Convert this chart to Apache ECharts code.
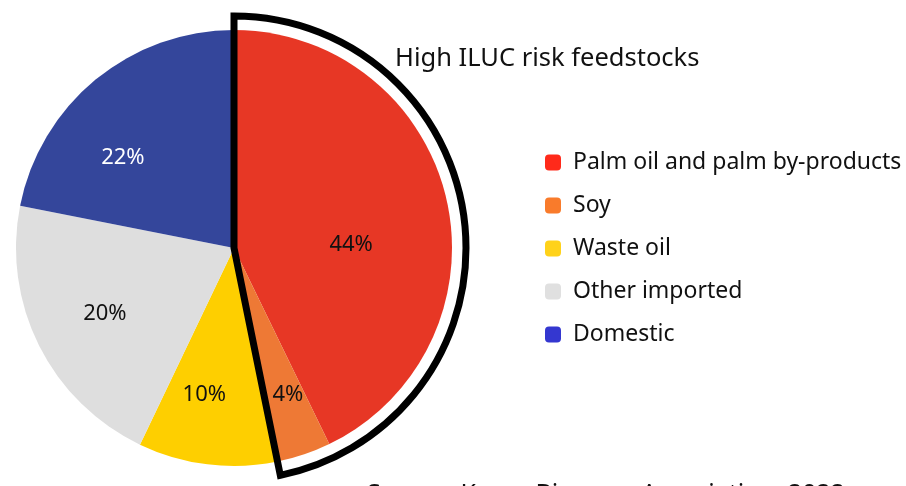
<!DOCTYPE html>
<html>
<head>
<meta charset="utf-8">
<script src="https://cdn.jsdelivr.net/npm/echarts@6/dist/echarts.min.js"></script>
<style>
  html, body { margin: 0; padding: 0; background: #fff; }
  #chart { width: 906px; height: 486px; }
</style>
</head>
<body>
<div id="chart"></div>
<script>
var categories = ['Palm oil and palm by-products', 'Soy', 'Waste oil', 'Other imported', 'Domestic'];
var shares = [42.8, 4.0, 10.3, 21.0, 21.9];
var shareLabels = ['44%', '4%', '10%', '20%', '22%'];
var sliceColors = ['#E73725', '#EE7935', '#FECF00', '#DEDEDE', '#34469B'];
var legendColors = ['#FF2A1A', '#F97B2B', '#FFD21A', '#E0E0E0', '#3437D0'];
var labelColors = ['#111', '#111', '#111', '#111', '#fff'];
var highRiskCount = 2; // palm + soy grouped by the outline

var FONT = '"Noto Sans"';
var center = [234, 248];

// small nudges so the percentage labels sit where the original has them
var labelNudge = [[8, 22], [18, 41], [-16, 36], [-29, 16], [-40, -4]];

document.addEventListener('DOMContentLoaded', function() {
  var chart = echarts.init(document.getElementById('chart'), null, { renderer: 'canvas' });

  var highRisk = 0, rest = 0;
  shares.forEach(function(v, i) {
    if (i < highRiskCount) highRisk += v; else rest += v;
  });

  var option = {
    animation: false,
    title: {
      text: 'High ILUC risk feedstocks',
      left: 395,
      top: 46,
      padding: 0,
      textStyle: { fontFamily: FONT, fontSize: 25.5, fontWeight: 'normal', color: '#111' }
    },
    legend: {
      orient: 'vertical',
      left: 540,
      top: 146,
      itemWidth: 16,
      itemHeight: 16,
      itemGap: 20,
      icon: 'roundRect',
      textStyle: { fontFamily: FONT, fontSize: 23, color: '#111', padding: [0, 0, 0, 7] },
      data: categories.map(function(c, i) {
        return { name: c, itemStyle: { color: legendColors[i] } };
      })
    },
    graphic: [{
      type: 'text',
      left: 367,
      top: 482,
      style: {
        text: 'Source: Korea Biomass Association, 2022',
        font: '25px ' + FONT,
        fill: '#111'
      }
    }],
    series: [
      {
        type: 'pie',
        center: center,
        radius: [0, 218],
        startAngle: 90,
        clockwise: true,
        silent: true,
        emphasis: { scale: false },
        itemStyle: { borderWidth: 0 },
        label: {
          show: true,
          position: 'inside',
          fontFamily: FONT,
          fontSize: 22,
          formatter: function(p) { return shareLabels[p.dataIndex]; }
        },
        labelLayout: function(p) {
          var n = labelNudge[p.dataIndex];
          return { dx: n[0], dy: n[1] };
        },
        data: categories.map(function(c, i) {
          return {
            name: c,
            value: shares[i],
            itemStyle: { color: sliceColors[i] },
            label: { color: labelColors[i] }
          };
        })
      },
      {
        // outline around the high ILUC risk group
        type: 'pie',
        center: center,
        radius: [0, 232],
        startAngle: 90,
        clockwise: true,
        silent: true,
        z: 5,
        emphasis: { scale: false },
        label: { show: false },
        labelLine: { show: false },
        data: [
          { name: 'high-risk', value: highRisk,
            itemStyle: { color: 'rgba(0,0,0,0)', borderColor: '#000', borderWidth: 7, borderJoin: 'miter' } },
          { name: 'rest', value: rest,
            itemStyle: { color: 'rgba(0,0,0,0)', borderWidth: 0 } }
        ]
      }
    ]
  };

  chart.setOption(option);
});
</script>
</body>
</html>
